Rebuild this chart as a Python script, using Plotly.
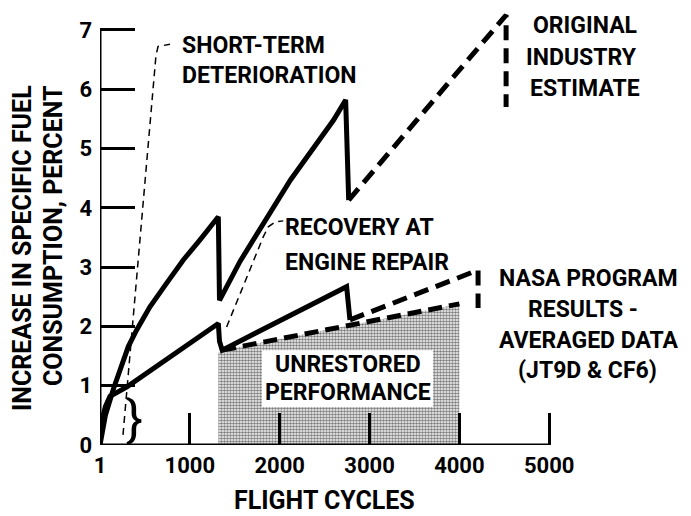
import plotly.graph_objects as go

# Original industry estimate (upper curve), solid part then dashed extrapolation
upper_x = [0, 60, 150, 315, 408, 556, 742, 927, 1113, 1317, 1330, 1560, 2120, 2600, 2734, 2768]
upper_y = [0, 0.5, 0.95, 1.66, 1.94, 2.33, 2.73, 3.12, 3.46, 3.85, 2.44, 3.1, 4.47, 5.48, 5.82, 4.13]
upper_ext_x = [2768, 4520, 4520]
upper_ext_y = [4.13, 7.25, 5.7]

# NASA program results (lower curve)
nasa_x = [0, 20, 60, 111, 300, 700, 1317, 1330, 1360, 2745, 2782]
nasa_y = [0, 0.4, 0.65, 0.82, 0.98, 1.4, 2.05, 1.75, 1.6, 2.67, 2.11]
nasa_ext_x = [2782, 4208, 4208]
nasa_ext_y = [2.11, 2.95, 2.31]

# Unrestored performance (shaded area)
unrestored_x = [1317, 1360, 4000]
unrestored_y = [1.55, 1.6, 2.38]

x_ticks = [0, 1000, 2000, 3000, 4000, 5000]
x_tick_labels = ["1", "1000", "2000", "3000", "4000", "5000"]
y_ticks = [0, 1, 2, 3, 4, 5, 6, 7]

FONT = "Roboto, Liberation Sans, sans-serif"


def label(fig, text, x, y, xanchor="center", size=23, angle=0, xref="x", yref="y"):
    fig.add_annotation(
        x=x, y=y, xref=xref, yref=yref, text=text, showarrow=False,
        xanchor=xanchor, yanchor="middle", textangle=angle,
        font=dict(family=FONT, size=size, color="black", weight="bold"),
    )


fig = go.Figure()

# shaded region first so the lines sit on top
fig.add_trace(go.Scatter(
    x=unrestored_x, y=unrestored_y, mode="lines", fill="tozeroy",
    line=dict(width=0, color="black"),
    fillpattern=dict(shape=".", fgcolor="black", bgcolor="white", size=3, solidity=0.6),
    fillcolor="rgba(0,0,0,0)", cliponaxis=False,
))
fig.add_trace(go.Scatter(
    x=unrestored_x[1:], y=unrestored_y[1:], mode="lines",
    line=dict(color="black", width=5, dash="14px,7px"), cliponaxis=False,
))
fig.add_trace(go.Scatter(
    x=upper_x, y=upper_y, mode="lines",
    line=dict(color="black", width=5), cliponaxis=False,
))
fig.add_trace(go.Scatter(
    x=upper_ext_x, y=upper_ext_y, mode="lines",
    line=dict(color="black", width=5, dash="15px,8px"), cliponaxis=False,
))
fig.add_trace(go.Scatter(
    x=nasa_x, y=nasa_y, mode="lines",
    line=dict(color="black", width=5), cliponaxis=False,
))
fig.add_trace(go.Scatter(
    x=nasa_ext_x, y=nasa_ext_y, mode="lines",
    line=dict(color="black", width=5, dash="15px,8px"), cliponaxis=False,
))

# axis lines (only up to 7 and 5000, like the original)
fig.add_shape(type="line", x0=0, y0=0, x1=0, y1=7, line=dict(color="black", width=3))
fig.add_shape(type="line", x0=0, y0=0, x1=5000, y1=0, line=dict(color="black", width=3))

# leader lines for the labels
fig.add_shape(type="path", path="M 256,0.17 L 623,6.57 L 646,6.72 L 779,6.76",
              line=dict(color="black", width=1.5, dash="7px,5px"))
fig.add_shape(type="path", path="M 1409,1.99 L 1817,3.51 L 1873,3.68 L 1947,3.76 L 2040,3.78",
              line=dict(color="black", width=1.5, dash="7px,5px"))

# white box behind the "unrestored performance" text
fig.add_shape(type="rect", x0=1803, x1=3706, y0=0.64, y1=1.6, layer="above",
              fillcolor="white", line=dict(width=0))

label(fig, "SHORT-TERM", 890, 6.74, xanchor="left")
label(fig, "DETERIORATION", 890, 6.24, xanchor="left")
label(fig, "ORIGINAL", 5398, 7.07)
label(fig, "INDUSTRY", 5364, 6.54)
label(fig, "ESTIMATE", 5398, 6.01)
label(fig, "RECOVERY AT", 2037, 3.66, xanchor="left")
label(fig, "ENGINE REPAIR", 2037, 3.08, xanchor="left")
label(fig, "NASA PROGRAM", 5440, 2.81)
label(fig, "RESULTS -", 5376, 2.28)
label(fig, "AVERAGED DATA", 5440, 1.77)
label(fig, "(JT9D & CF6)", 5431, 1.25)
label(fig, "UNRESTORED", 2760, 1.35)
label(fig, "PERFORMANCE", 2760, 0.88)
label(fig, "FLIGHT CYCLES", 2504, -0.1259, size=25, yref="paper")
label(fig, "INCREASE IN SPECIFIC FUEL", -0.1336, 0.4508, size=25, angle=-90,
      xref="paper", yref="paper")
label(fig, "CONSUMPTION, PERCENT", -0.0805, 0.4805, size=25, angle=-90,
      xref="paper", yref="paper")

fig.add_annotation(x=380, y=0.44, xref="x", yref="y", text="}", showarrow=False,
                   font=dict(family=FONT, size=50, color="black"))

tick_font = dict(family=FONT, size=22, color="black", weight="bold")
fig.update_layout(
    width=691, height=516,
    margin=dict(l=92, r=15, t=0, b=79),
    plot_bgcolor="white", paper_bgcolor="white",
    showlegend=False,
    xaxis=dict(range=[0, 6500], tickvals=x_ticks, ticktext=x_tick_labels,
               ticks="inside", ticklen=32, tickwidth=3, tickcolor="black",
               showgrid=False, zeroline=False, showline=False,
               tickfont=tick_font, ticklabelstandoff=5),
    yaxis=dict(range=[0, 7.37], tickvals=y_ticks,
               ticks="inside", ticklen=35, tickwidth=3, tickcolor="black",
               showgrid=False, zeroline=False, showline=False,
               tickfont=tick_font, ticklabelstandoff=7),
)

fig.write_html("out.html")
